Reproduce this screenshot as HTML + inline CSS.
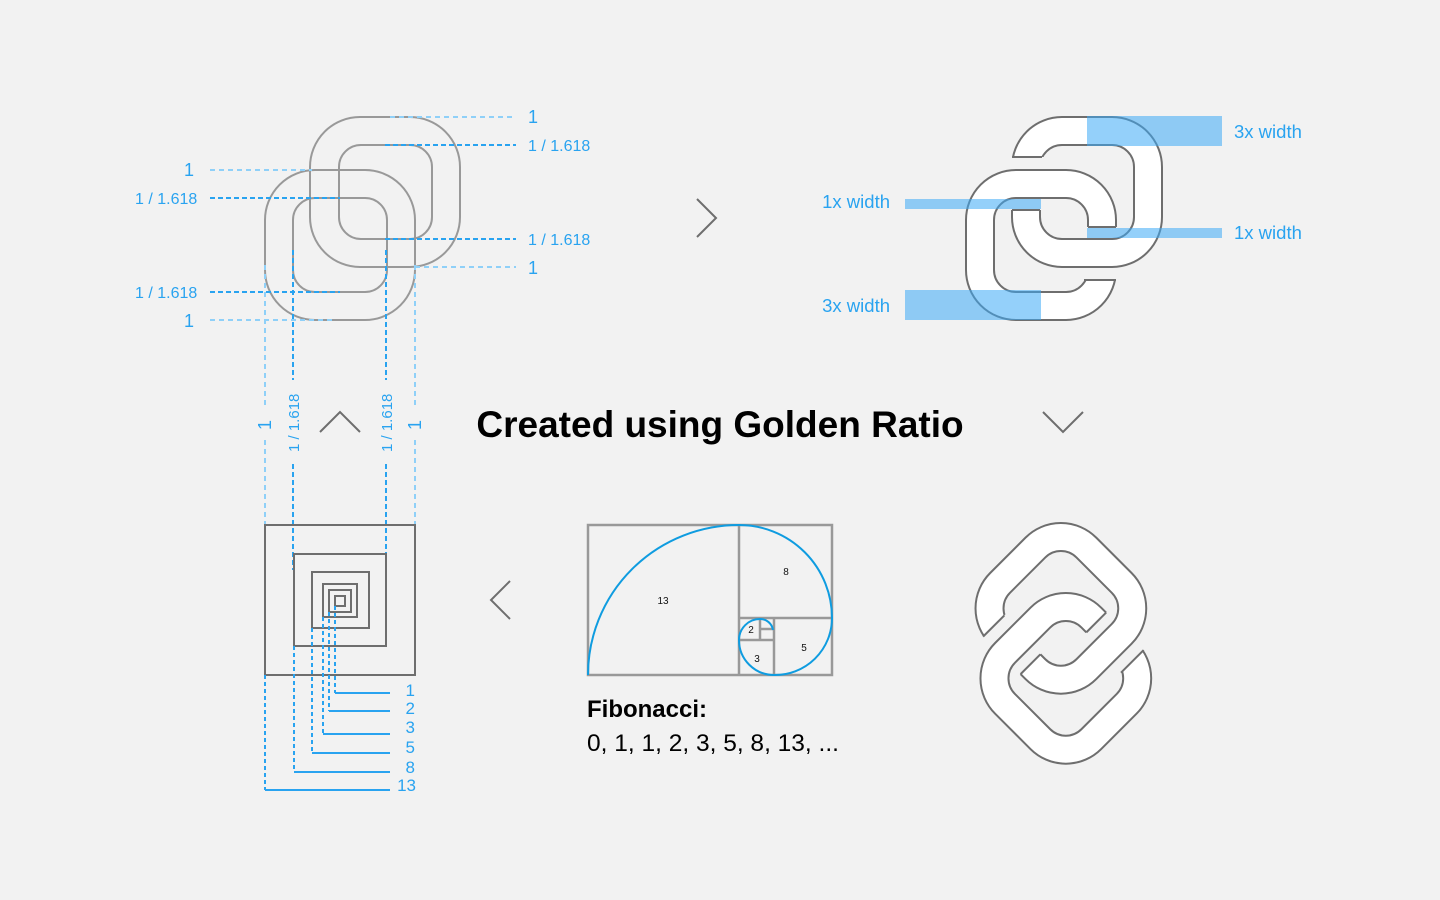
<!DOCTYPE html>
<html><head><meta charset="utf-8"><style>
html,body{margin:0;padding:0;background:#f2f2f2;}
svg{display:block;}
text{font-family:"Liberation Sans","DejaVu Sans",sans-serif;}
</style></head><body>
<svg width="1440" height="900" viewBox="0 0 1440 900" xmlns="http://www.w3.org/2000/svg">
<rect width="1440" height="900" fill="#f2f2f2"/>
<defs>
<clipPath id="cA"><path clip-rule="evenodd" d="M900,0H1300V400H900Z M1000,157H1050V210H1000Z"/></clipPath>
<clipPath id="cB"><path clip-rule="evenodd" d="M900,0H1300V400H900Z M1080,227H1125V280H1080Z"/></clipPath>
<g id="chain">
<path clip-path="url(#cB)" fill="#fff" fill-rule="evenodd" stroke="#6e6e6e" stroke-width="2" d="M1016,170 H1066 A50 50 0 0 1 1116,220 V270 A50 50 0 0 1 1066,320 H1016 A50 50 0 0 1 966,270 V220 A50 50 0 0 1 1016,170 Z M1016,198 H1066 A22 22 0 0 1 1088,220 V270 A22 22 0 0 1 1066,292 H1016 A22 22 0 0 1 994,270 V220 A22 22 0 0 1 1016,198 Z"/>
<line x1="1088" y1="227" x2="1116" y2="227" stroke="#6e6e6e" stroke-width="2"/>
<line x1="1084" y1="280" x2="1116" y2="280" stroke="#6e6e6e" stroke-width="2"/>
<path clip-path="url(#cA)" fill="#fff" fill-rule="evenodd" stroke="#6e6e6e" stroke-width="2" d="M1062,117 H1112 A50 50 0 0 1 1162,167 V217 A50 50 0 0 1 1112,267 H1062 A50 50 0 0 1 1012,217 V167 A50 50 0 0 1 1062,117 Z M1062,145 H1112 A22 22 0 0 1 1134,167 V217 A22 22 0 0 1 1112,239 H1062 A22 22 0 0 1 1040,217 V167 A22 22 0 0 1 1062,145 Z"/>
<line x1="1012" y1="157" x2="1042" y2="157" stroke="#6e6e6e" stroke-width="2"/>
<line x1="1012" y1="210" x2="1040" y2="210" stroke="#6e6e6e" stroke-width="2"/>
</g>
</defs>

<g fill="none" stroke="#999" stroke-width="2">
<rect x="310" y="117" width="150" height="150" rx="50"/>
<rect x="339" y="145" width="93" height="94" rx="22"/>
<rect x="265" y="170" width="150" height="150" rx="50"/>
<rect x="293" y="198" width="94" height="94" rx="22"/>
</g>
<g stroke-width="2" fill="none">
<line x1="390" y1="117" x2="516" y2="117" stroke="#8fd0f8" stroke-dasharray="5,4"/>
<line x1="385" y1="145" x2="516" y2="145" stroke="#29a3f0" stroke-dasharray="5,3"/>
<line x1="385" y1="239" x2="516" y2="239" stroke="#29a3f0" stroke-dasharray="5,3"/>
<line x1="415" y1="267" x2="516" y2="267" stroke="#8fd0f8" stroke-dasharray="5,4"/>
<line x1="210" y1="170" x2="312" y2="170" stroke="#8fd0f8" stroke-dasharray="5,4"/>
<line x1="210" y1="198" x2="340" y2="198" stroke="#29a3f0" stroke-dasharray="5,3"/>
<line x1="210" y1="292" x2="340" y2="292" stroke="#29a3f0" stroke-dasharray="5,3"/>
<line x1="210" y1="320" x2="335" y2="320" stroke="#8fd0f8" stroke-dasharray="5,4"/>
<line x1="265" y1="265" x2="265" y2="405" stroke="#8fd0f8" stroke-dasharray="5,4"/>
<line x1="265" y1="440" x2="265" y2="570" stroke="#8fd0f8" stroke-dasharray="5,4"/>
<line x1="415" y1="265" x2="415" y2="405" stroke="#8fd0f8" stroke-dasharray="5,4"/>
<line x1="415" y1="440" x2="415" y2="570" stroke="#8fd0f8" stroke-dasharray="5,4"/>
<line x1="293" y1="250" x2="293" y2="380" stroke="#29a3f0" stroke-dasharray="5,3"/>
<line x1="293" y1="464" x2="293" y2="570" stroke="#29a3f0" stroke-dasharray="5,3"/>
<line x1="386" y1="250" x2="386" y2="380" stroke="#29a3f0" stroke-dasharray="5,3"/>
<line x1="386" y1="464" x2="386" y2="570" stroke="#29a3f0" stroke-dasharray="5,3"/>
</g>
<g fill="#29a3f0" font-size="16">
<text x="528" y="123" font-size="18">1</text>
<text x="528" y="151">1 / 1.618</text>
<text x="528" y="245">1 / 1.618</text>
<text x="528" y="274" font-size="18">1</text>
<text x="184" y="176" font-size="18">1</text>
<text x="135" y="204">1 / 1.618</text>
<text x="135" y="298">1 / 1.618</text>
<text x="184" y="327" font-size="18">1</text>
<text transform="translate(271,430) rotate(-90)" font-size="18">1</text>
<text transform="translate(421,430) rotate(-90)" font-size="18">1</text>
<text transform="translate(299,452) rotate(-90)" font-size="15">1 / 1.618</text>
<text transform="translate(392,452) rotate(-90)" font-size="15">1 / 1.618</text>
</g>

<g fill="none" stroke="#6e6e6e" stroke-width="2">
<polyline points="697,199 716,218 697,237"/>
<polyline points="320,432 340,412 360,432"/>
<polyline points="1043,412 1063,432 1083,412"/>
<polyline points="510,581 491,600 510,619"/>
</g>

<use href="#chain"/>
<g fill="rgb(60,170,245)" fill-opacity="0.55">
<rect x="1087" y="116" width="135" height="30"/>
<rect x="905" y="199" width="136" height="10"/>
<rect x="1087" y="228" width="135" height="10"/>
<rect x="905" y="290" width="136" height="30"/>
</g>
<g fill="#29a3f0" font-size="18.5">
<text x="1234" y="138">3x width</text>
<text x="1234" y="239">1x width</text>
<text x="890" y="208" text-anchor="end">1x width</text>
<text x="890" y="312" text-anchor="end">3x width</text>
</g>

<text x="720" y="437" text-anchor="middle" font-size="37" font-weight="bold" fill="#000">Created using Golden Ratio</text>

<g fill="none" stroke="#6e6e6e" stroke-width="2">
<rect x="265" y="525" width="150" height="150"/>
<rect x="294" y="554" width="92" height="92"/>
<rect x="312" y="572" width="57" height="56"/>
<rect x="323" y="584" width="34" height="33"/>
<rect x="329" y="590" width="22" height="22"/>
<rect x="335" y="596" width="10" height="10"/>
</g>
<g fill="none" stroke="#29a3f0" stroke-width="2">
<path d="M265,675 V790" stroke-dasharray="4,3"/><path d="M265,790 H390"/>
<path d="M294,646 V772" stroke-dasharray="4,3"/><path d="M294,772 H390"/>
<path d="M312,628 V753" stroke-dasharray="4,3"/><path d="M312,753 H390"/>
<path d="M323,617 V734" stroke-dasharray="4,3"/><path d="M323,734 H390"/>
<path d="M329,612 V711" stroke-dasharray="4,3"/><path d="M329,711 H390"/>
<path d="M335,606 V693" stroke-dasharray="4,3"/><path d="M335,693 H390"/>
</g>
<g fill="#29a3f0" font-size="17" text-anchor="end">
<text x="415" y="696">1</text>
<text x="415" y="714">2</text>
<text x="415" y="733">3</text>
<text x="415" y="753">5</text>
<text x="415" y="773">8</text>
<text x="416" y="791">13</text>
</g>

<g fill="none" stroke="#999" stroke-width="2.5">
<rect x="588" y="525" width="244" height="150"/>
<line x1="739" y1="525" x2="739" y2="675"/>
<line x1="739" y1="618" x2="832" y2="618"/>
<line x1="774" y1="618" x2="774" y2="675"/>
<line x1="739" y1="640" x2="774" y2="640"/>
<line x1="760" y1="618" x2="760" y2="640"/>
<line x1="760" y1="629" x2="774" y2="629"/>
</g>
<path fill="none" stroke="#0f9ce0" stroke-width="2" d="M588,675 A151 150 0 0 1 739,525 A93 93 0 0 1 832,618 A57 57 0 0 1 774,675 A35 35 0 0 1 739,640 A21 21 0 0 1 760,619 A13 13 0 0 1 773,630"/>
<g fill="#111" font-size="10">
<text x="663" y="604" text-anchor="middle">13</text>
<text x="786" y="575" text-anchor="middle">8</text>
<text x="804" y="651" text-anchor="middle">5</text>
<text x="757" y="662" text-anchor="middle">3</text>
<text x="751" y="633" text-anchor="middle">2</text>
</g>
<text x="587" y="717" font-size="24" font-weight="bold" fill="#000">Fibonacci:</text>
<text x="587" y="751" font-size="24.5" fill="#000">0, 1, 1, 2, 3, 5, 8, 13, ...</text>

<use href="#chain" transform="translate(-1,425) rotate(-45 1064 218)"/>
</svg>
</body></html>
